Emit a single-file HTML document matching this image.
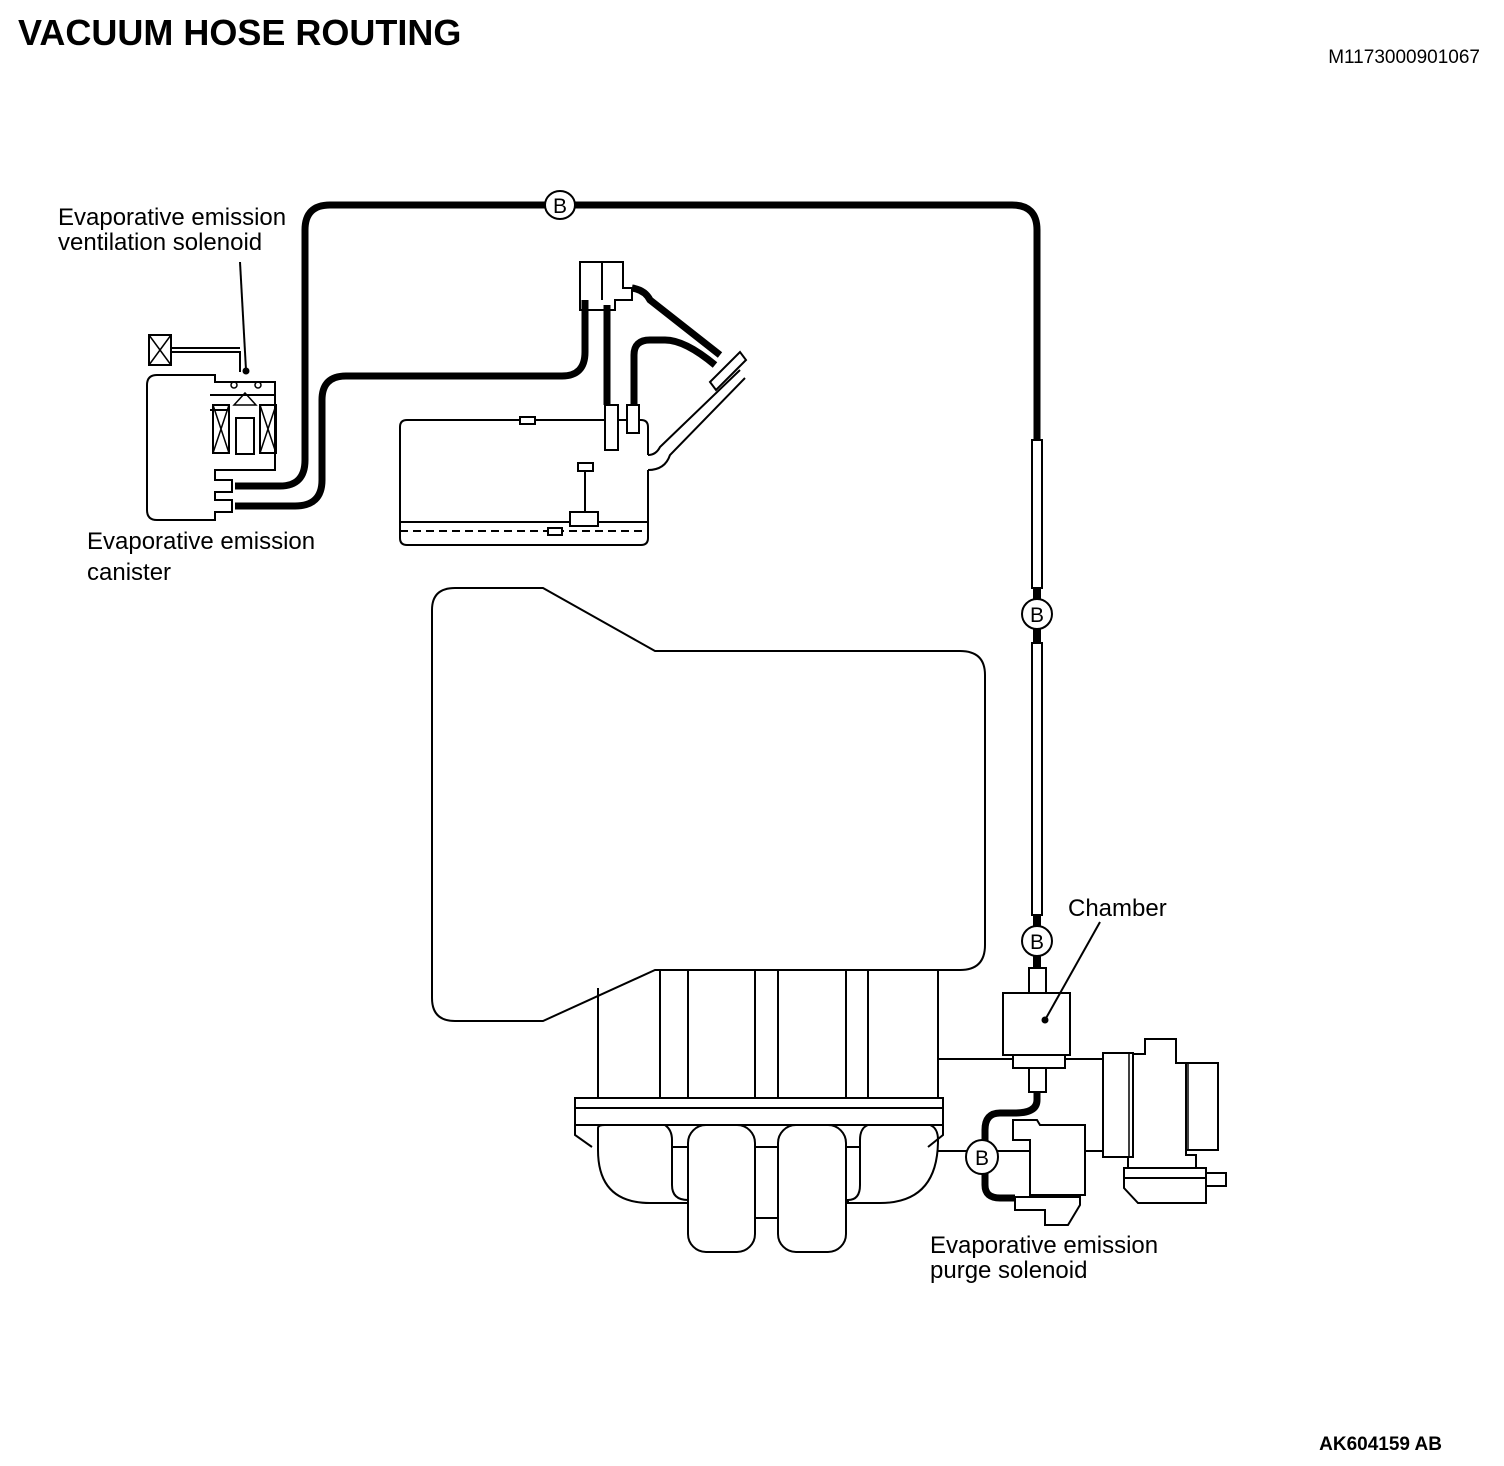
<!DOCTYPE html>
<html><head><style>
body{margin:0;background:#fff}
svg{display:block}
text{font-family:"Liberation Sans",sans-serif;fill:#000}
</style></head><body>
<svg width="1504" height="1466" viewBox="0 0 1504 1466" xmlns="http://www.w3.org/2000/svg">
<text x="18" y="45" font-size="36" font-weight="bold">VACUUM HOSE ROUTING</text>
<text x="1480" y="63" font-size="19" text-anchor="end">M1173000901067</text>
<text x="1442" y="1450" font-size="19" font-weight="bold" text-anchor="end">AK604159 AB</text>
<g font-size="24">
<text x="58" y="225">Evaporative emission</text>
<text x="58" y="250">ventilation solenoid</text>
<text x="87" y="549">Evaporative emission</text>
<text x="87" y="580">canister</text>
<text x="1068" y="916">Chamber</text>
<text x="930" y="1253">Evaporative emission</text>
<text x="930" y="1278">purge solenoid</text>
</g>
<g fill="none" stroke="#000">
<path d="M235,486 L280,486 Q305,486 305,460 L305,230 Q305,205 330,205 L1012,205 Q1037,205 1037,230 L1037,440" stroke-width="7"/>
<path d="M235,506 L295,506 Q322,506 322,480 L322,400 Q322,376 346,376 L562,376 Q585,376 585,352 L585,300" stroke-width="7"/>
<rect x="1032" y="440" width="10" height="148" stroke-width="2"/>
<rect x="1032" y="643" width="10" height="272" stroke-width="2"/>
<path d="M1037,588 L1037,600 M1037,628 L1037,643 M1037,915 L1037,928 M1037,955 L1037,968" stroke-width="8"/>
<path d="M1037,1092 L1037,1100 Q1037,1113 1015,1113 L1000,1113 Q985,1113 985,1130 L985,1185 Q985,1198 1000,1198 L1015,1198" stroke-width="7"/>
<path d="M240,262 L246,370" stroke-width="2"/>
<path d="M1100,922 L1045,1020" stroke-width="2"/>
<circle cx="1045" cy="1020" r="3" fill="#000"/>
<!-- canister -->
<path d="M215,375 L157,375 Q147,375 147,385 L147,510 Q147,520 157,520 L215,520 L215,512 L232,512 L232,500 L215,500 L215,492 L232,492 L232,480 L215,480 L215,470 L275,470 L275,382 L215,382 Z" stroke-width="2"/>
<path d="M210,395 L275,395 M210,410 L230,410" stroke-width="2"/>
<rect x="213" y="405" width="16" height="48" stroke-width="2"/>
<path d="M213,405 L229,453 M229,405 L213,453" stroke-width="1.5"/>
<rect x="260" y="405" width="16" height="48" stroke-width="2"/>
<path d="M260,405 L276,453 M276,405 L260,453" stroke-width="1.5"/>
<rect x="236" y="418" width="18" height="36" stroke-width="2"/>
<path d="M234,405 L245,393 L256,405 Z" stroke-width="1.5"/>
<circle cx="234" cy="385" r="3" stroke-width="1.5"/>
<circle cx="258" cy="385" r="3" stroke-width="1.5"/>
<circle cx="246" cy="371" r="3" fill="#000"/>
<path d="M240,372 L240,352 L170,352 M240,348 L170,348" stroke-width="2"/>
<rect x="149" y="335" width="22" height="30" stroke-width="2"/>
<path d="M149,335 L171,365 M171,335 L149,365" stroke-width="1.5"/>
<!-- tank -->
<path d="M648,455 L648,427 Q648,420 641,420 L407,420 Q400,420 400,427 L400,538 Q400,545 407,545 L641,545 Q648,545 648,538 L648,470" stroke-width="2"/>
<path d="M400,522 L648,522" stroke-width="2"/>
<path d="M400,531 L648,531" stroke-width="2" stroke-dasharray="8,5"/>
<rect x="520" y="417" width="15" height="7" fill="#fff" stroke-width="2"/>
<rect x="578" y="463" width="15" height="8" stroke-width="2"/>
<path d="M585,471 L585,512" stroke-width="2"/>
<rect x="570" y="512" width="28" height="14" fill="#fff" stroke-width="2"/>
<rect x="548" y="528" width="14" height="7" fill="#fff" stroke-width="2"/>
<!-- fuel cap -->
<path d="M580,262 L623,262 L623,288 L632,288 L632,300 L615,300 L615,310 L580,310 Z" stroke-width="2"/>
<path d="M602,262 L602,300" stroke-width="2"/>
<path d="M607,305 L607,405 M632,288 Q645,290 650,300 L720,355" stroke-width="7"/>
<rect x="605" y="405" width="13" height="45" fill="#fff" stroke-width="2"/>
<rect x="627" y="405" width="12" height="28" fill="#fff" stroke-width="2"/>
<path d="M634,405 L634,355 Q634,340 650,340 L665,340 Q685,340 715,365" stroke-width="7"/>
<path d="M648,455 Q656,455 660,447 L740,370 M648,470 Q665,470 670,455 L745,378" stroke-width="2"/>
<path d="M710,382 L740,352 L746,360 L716,390 Z" fill="#fff" stroke-width="2"/>
<!-- engine -->
<path d="M432,610 Q432,588 455,588 L543,588 L655,651 L960,651 Q985,651 985,675 L985,945 Q985,970 960,970 L655,970 L543,1021 L455,1021 Q432,1021 432,998 Z" stroke-width="2"/>
<path d="M598,988 L598,1098 M660,970 L660,1098 M688,970 L688,1098 M755,970 L755,1098 M778,970 L778,1098 M846,970 L846,1098 M868,970 L868,1098 M938,970 L938,1098" stroke-width="2"/>
<path d="M938,1059 L1104,1059 M938,1151 L1104,1151" stroke-width="2"/>
<rect x="575" y="1098" width="368" height="27" stroke-width="2"/>
<path d="M575,1108 L943,1108" stroke-width="2"/>
<path d="M575,1125 L575,1135 L592,1147 M943,1125 L943,1135 L928,1147" stroke-width="2"/>
<path d="M598,1128 Q598,1125 605,1125 L665,1125 Q672,1130 672,1140 L672,1185 Q672,1200 688,1200 L688,1203 L650,1203 Q598,1203 598,1150 Z" stroke-width="2"/>
<path d="M868,1125 L930,1125 Q938,1128 938,1140 Q938,1203 880,1203 L848,1203 L848,1200 Q860,1200 860,1185 L860,1140 Q860,1128 868,1125 Z" stroke-width="2"/>
<path d="M672,1147 L688,1147 M755,1147 L778,1147 M846,1147 L860,1147 M755,1218 L778,1218" stroke-width="2"/>
<rect x="688" y="1125" width="67" height="127" rx="18" fill="#fff" stroke-width="2"/>
<rect x="778" y="1125" width="68" height="127" rx="18" fill="#fff" stroke-width="2"/>
<!-- chamber -->
<rect x="1029" y="968" width="17" height="25" fill="#fff" stroke-width="2"/>
<rect x="1003" y="993" width="67" height="62" stroke-width="2"/>
<rect x="1013" y="1055" width="52" height="13" fill="#fff" stroke-width="2"/>
<rect x="1029" y="1068" width="17" height="24" fill="#fff" stroke-width="2"/>
<!-- purge solenoid -->
<path d="M1013,1120 L1037,1120 L1040,1125 L1085,1125 L1085,1195 L1030,1195 L1030,1140 L1013,1140 Z" fill="#fff" stroke-width="2"/>
<path d="M1015,1197 L1080,1197 L1080,1205 L1068,1225 L1045,1225 L1045,1210 L1015,1210 Z" fill="#fff" stroke-width="2"/>
<!-- throttle body -->
<rect x="1103" y="1053" width="30" height="104" fill="#fff" stroke-width="2"/>
<path d="M1129,1053 L1129,1157" stroke-width="1.5"/>
<path d="M1133,1054 L1145,1054 L1145,1039 L1176,1039 L1176,1063 L1186,1063 L1186,1155 L1196,1155 L1196,1168 M1128,1157 L1128,1168" stroke-width="2"/>
<rect x="1186" y="1063" width="32" height="87" stroke-width="2"/>
<path d="M1188,1063 L1188,1150" stroke-width="1.5"/>
<path d="M1124,1168 L1206,1168 L1206,1203 L1138,1203 L1124,1188 Z" stroke-width="2"/>
<path d="M1124,1178 L1206,1178" stroke-width="2"/>
<rect x="1206" y="1173" width="20" height="13" stroke-width="2"/>
</g>
<g fill="#fff" stroke="#000" stroke-width="2">
<ellipse cx="560" cy="205" rx="15" ry="14"/>
<ellipse cx="1037" cy="614" rx="15" ry="15"/>
<ellipse cx="1037" cy="941" rx="15" ry="15"/>
<ellipse cx="982" cy="1157" rx="16" ry="17"/>
</g>
<g font-size="21" text-anchor="middle">
<text x="560" y="213">B</text>
<text x="1037" y="622">B</text>
<text x="1037" y="949">B</text>
<text x="982" y="1165">B</text>
</g>
</svg>
</body></html>
